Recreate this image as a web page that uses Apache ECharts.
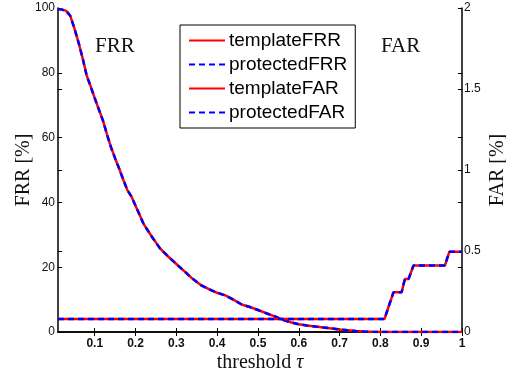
<!DOCTYPE html>
<html>
<head>
<meta charset="utf-8">
<script src="https://cdn.jsdelivr.net/npm/echarts@6/dist/echarts.min.js"></script>
<style>
  html, body { margin: 0; padding: 0; background: #fff; }
  #chart { width: 506px; height: 373px; }
</style>
</head>
<body>
<div id="chart"></div>
<script>
// FRR curve (left axis, %)
const frrX = [0.01, 0.02, 0.03, 0.04, 0.05, 0.06, 0.07, 0.08, 0.09, 0.10,
  0.11, 0.12, 0.13, 0.14, 0.15, 0.16, 0.17, 0.18, 0.19, 0.20,
  0.22, 0.24, 0.26, 0.28, 0.30, 0.32, 0.34, 0.36, 0.38, 0.40,
  0.42, 0.44, 0.46, 0.48, 0.50, 0.52, 0.54, 0.56, 0.58, 0.60,
  0.62, 0.64, 0.66, 0.68, 0.70, 0.72, 0.74, 0.76, 0.78, 0.80,
  0.85, 0.90, 0.95, 1.00];
const frrY = [99.7, 99.5, 99.1, 97.6, 93.8, 89.5, 84.7, 79.3, 75.8, 72.2,
  68.7, 65.3, 61.0, 57.0, 53.6, 50.4, 47.0, 43.8, 41.8, 39.0,
  33.3, 29.4, 25.8, 23.3, 21.0, 18.7, 16.4, 14.5, 13.2, 12.1,
  11.3, 10.0, 8.5, 7.7, 6.8, 5.8, 4.9, 3.8, 3.0, 2.4,
  2.0, 1.7, 1.4, 1.1, 0.8, 0.55, 0.3, 0.15, 0.05, 0,
  0, 0, 0, 0];

// FAR curve (right axis, %)
const farX = [0.01, 0.81, 0.832, 0.852, 0.86, 0.869, 0.881, 0.958, 0.969, 1.00];
const farY = [0.08, 0.08, 0.245, 0.245, 0.327, 0.327, 0.41, 0.41, 0.495, 0.495];

const xTicks = [0.1, 0.2, 0.3, 0.4, 0.5, 0.6, 0.7, 0.8, 0.9, 1];
const leftTicks = [0, 20, 25, 40, 50, 60, 75, 80, 100];
const rightTicks = [0, 0.4, 0.5, 0.8, 1, 1.2, 1.5, 1.6, 2];

const pairs = (xs, ys) => xs.map((x, i) => [x, ys[i]]);

const RED = '#ff0000';
const BLUE = '#0000ff';
const axisLine = { show: true, lineStyle: { color: '#000', width: 1.5 } };
const tick = (vals) => ({ show: true, inside: true, length: 4, customValues: vals, lineStyle: { color: '#000', width: 1 } });

const myChart = echarts.init(document.getElementById('chart'));

const solid = (name, data, yIdx) => ({
  name, type: 'line', data, yAxisIndex: yIdx,
  showSymbol: false, symbol: 'none', animation: false,
  lineStyle: { color: RED, width: 2.5 }, itemStyle: { color: RED },
});
const dashed = (name, data, yIdx) => ({
  name, type: 'line', data, yAxisIndex: yIdx,
  showSymbol: false, symbol: 'none', animation: false,
  lineStyle: { color: BLUE, width: 2.5, type: [6, 4] }, itemStyle: { color: BLUE },
});

const option = {
  backgroundColor: '#fff',
  animation: false,
  grid: { left: 58, right: 44, top: 8, bottom: 41, outerBoundsMode: 'none' },
  legend: {
    orient: 'vertical',
    left: 180, top: 25,
    width: 173,
    padding: [6, 8, 6, 8],
    itemGap: 5,
    itemWidth: 36, itemHeight: 14,
    borderColor: '#000', borderWidth: 1,
    backgroundColor: '#fff',
    itemStyle: { opacity: 0 },
    textStyle: { fontFamily: 'Liberation Sans', fontSize: 19, color: '#000', padding: [0, 0, 0, -1] },
    data: ['templateFRR', 'protectedFRR', 'templateFAR', 'protectedFAR'],
  },
  xAxis: [
    {
      type: 'value', min: 0.01, max: 1, position: 'bottom',
      name: 'threshold {i|τ}', nameLocation: 'middle', nameGap: 21, nameMoveOverlap: false,
      nameTextStyle: {
        fontFamily: 'Liberation Serif', fontSize: 20, color: '#111',
        rich: { i: { fontFamily: 'Liberation Serif', fontStyle: 'italic', fontSize: 20, color: '#111' } },
      },
      axisLine, axisTick: tick(xTicks),
      axisLabel: { customValues: xTicks, fontFamily: 'Liberation Sans', fontSize: 12, fontWeight: 'bold', color: '#111', margin: 6 },
      splitLine: { show: false },
    },
    {
      type: 'value', min: 0.01, max: 1, position: 'top',
      axisLine, axisTick: tick(xTicks),
      axisLabel: { show: false }, splitLine: { show: false },
    },
  ],
  yAxis: [
    {
      type: 'value', min: 0, max: 100, interval: 20, position: 'left',
      name: 'FRR [%]', nameLocation: 'middle', nameGap: 24, nameRotate: 90, nameMoveOverlap: false,
      nameTextStyle: { fontFamily: 'Liberation Serif', fontSize: 20, color: '#111' },
      axisLine, axisTick: tick(leftTicks),
      axisLabel: { fontFamily: 'Liberation Sans', fontSize: 12, color: '#111', margin: 3 },
      splitLine: { show: false },
    },
    {
      type: 'value', min: 0, max: 2, interval: 0.5, position: 'right',
      name: 'FAR [%]', nameLocation: 'middle', nameGap: 26, nameRotate: 90, nameMoveOverlap: false,
      nameTextStyle: { fontFamily: 'Liberation Serif', fontSize: 20, color: '#111' },
      axisLine, axisTick: tick(rightTicks),
      axisLabel: { fontFamily: 'Liberation Sans', fontSize: 12, color: '#111', margin: 2 },
      splitLine: { show: false },
    },
  ],
  graphic: [
    { type: 'text', left: 95, top: 36, style: { text: 'FRR', font: '21px "Liberation Serif"', fill: '#111' } },
    { type: 'text', left: 381, top: 36, style: { text: 'FAR', font: '21px "Liberation Serif"', fill: '#111' } },
  ],
  series: [
    solid('templateFRR', pairs(frrX, frrY), 0),
    dashed('protectedFRR', pairs(frrX, frrY), 0),
    solid('templateFAR', pairs(farX, farY), 1),
    dashed('protectedFAR', pairs(farX, farY), 1),
  ],
};

myChart.setOption(option);
</script>
</body>
</html>
